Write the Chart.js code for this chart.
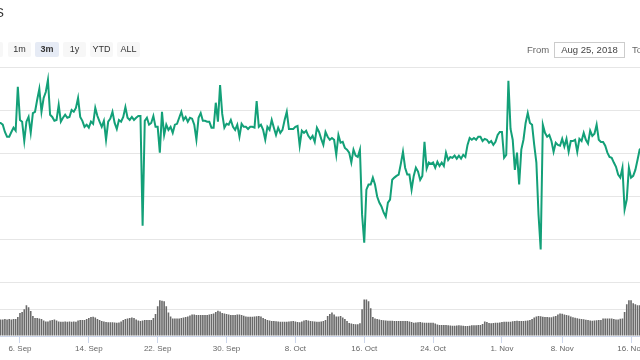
<!DOCTYPE html>
<html>
<head>
<meta charset="utf-8">
<script src="https://cdn.jsdelivr.net/npm/chart.js@4.4.1/dist/chart.umd.min.js"></script>
<style>
html, body { margin: 0; padding: 0; background: #fff; }
#wrap { position: relative; width: 640px; height: 360px; overflow: hidden; font-family: "Liberation Sans", Arial, sans-serif; }
#wrap canvas { position: absolute; left: 0; top: 0; }
.title { position: absolute; right: 636px; top: 5px; font-size: 13px; color: #333; white-space: nowrap; }
.btn { position: absolute; top: 42px; height: 15px; width: 23px; line-height: 15px; background: #f7f7f7; color: #333; font-size: 9px; text-align: center; border-radius: 2px; }
.btn.on { background: #e6ebf5; font-weight: bold; }
.lbl { position: absolute; top: 42px; line-height: 15px; font-size: 9.5px; color: #666; }
.inp { position: absolute; left: 554px; top: 42px; width: 69px; height: 14px; border: 1px solid #ccc; font-size: 9.5px; line-height: 14px; color: #444; text-align: center; box-sizing: content-box; }
</style>
</head>
<body>
<div id="wrap">
    <canvas id="c" width="640" height="360"></canvas>
    <div class="title">BTS</div>
    <div class="btn" style="left:-20px">1w</div>
    <div class="btn" style="left:8px">1m</div>
    <div class="btn on" style="left:35px;width:24px">3m</div>
    <div class="btn" style="left:63px">1y</div>
    <div class="btn" style="left:90px">YTD</div>
    <div class="btn" style="left:117px">ALL</div>
    <div class="lbl" style="left:527px">From</div>
    <div class="inp">Aug 25, 2018</div>
    <div class="lbl" style="left:632px">To</div>
</div>
<script>
// one point every 6 hours, day 1 = 1 Sep 2018
var START_DAY = 3.5,
    STEP_DAYS = 0.25,
    X_MIN = 3.68,
    X_MAX = 78.04,
    LINE_COLOR = '#13a078',
    VOLUME_COLOR = '#6a6a6a';

var priceValues = [
    370, 370, 366, 349, 338, 338, 349, 359, 352, 454,
    377, 373, 328, 373, 384, 347, 393, 396, 424, 449,
    396, 428, 442, 470, 389, 384, 375, 377, 412, 373,
    382, 389, 382, 384, 400, 396, 405, 428, 384, 375,
    361, 366, 359, 373, 368, 405, 386, 373, 361, 375,
    331, 373, 380, 396, 370, 356, 377, 373, 384, 407,
    382, 377, 384, 377, 382, 386, 386, 131, 375, 382,
    366, 370, 386, 361, 361, 301, 396, 342, 366, 354,
    361, 347, 366, 368, 382, 396, 377, 384, 373, 382,
    380, 366, 331, 382, 393, 375, 375, 373, 373, 359,
    359, 417, 373, 458, 391, 359, 368, 366, 377, 361,
    354, 366, 338, 368, 361, 361, 356, 361, 361, 359,
    421, 361, 366, 354, 331, 361, 354, 377, 359, 342,
    359, 347, 354, 377, 396, 356, 356, 356, 361, 363,
    317, 352, 347, 352, 340, 333, 340, 326, 359, 349,
    333, 319, 349, 338, 331, 335, 331, 296, 342, 324,
    326, 312, 308, 301, 278, 308, 294, 291, 308, 157,
    92, 215, 227, 227, 243, 227, 199, 185, 176, 162,
    152, 185, 192, 238, 243, 247, 250, 275, 303, 266,
    250, 250, 215, 247, 266, 257, 238, 247, 326, 264,
    278, 275, 278, 266, 280, 270, 278, 270, 301, 284,
    291, 289, 294, 287, 294, 287, 296, 291, 319, 335,
    331, 335, 331, 338, 338, 328, 333, 331, 324, 328,
    319, 326, 342, 349, 349, 289, 296, 468, 356, 331,
    261, 301, 227, 308, 331, 370, 393, 370, 366, 319,
    278, 157, 76, 366, 347, 338, 342, 328, 303, 324,
    319, 317, 333, 315, 333, 303, 328, 328, 331, 303,
    333, 328, 347, 331, 322, 352, 340, 345, 366, 331,
    326, 326, 317, 301, 291, 289, 278, 268, 250, 243,
    266, 169, 192, 266, 243, 247, 261, 284, 308, 312
];

var volumeValues = [
    618, 618, 611, 629, 611, 629, 611, 629, 629, 703,
    851, 888, 999, 1147, 1073, 925, 740, 666, 666, 648,
    629, 574, 537, 537, 574, 592, 618, 574, 537, 529,
    529, 537, 529, 537, 529, 537, 529, 574, 592, 592,
    592, 629, 666, 703, 714, 685, 629, 592, 555, 537,
    518, 507, 507, 507, 500, 492, 500, 537, 592, 629,
    655, 666, 685, 666, 611, 574, 555, 574, 592, 592,
    592, 592, 666, 814, 1110, 1332, 1314, 1295, 1110, 870,
    722, 655, 655, 655, 655, 666, 685, 703, 722, 759,
    796, 796, 784, 777, 777, 777, 777, 777, 796, 814,
    840, 888, 936, 907, 851, 833, 814, 796, 784, 777,
    784, 796, 803, 777, 751, 722, 714, 714, 714, 722,
    733, 740, 722, 666, 629, 592, 574, 562, 555, 544,
    537, 529, 529, 529, 529, 537, 548, 555, 537, 518,
    507, 537, 574, 592, 574, 555, 548, 537, 529, 529,
    537, 555, 592, 740, 814, 877, 796, 722, 722, 740,
    685, 629, 555, 481, 463, 444, 437, 433, 470, 999,
    1358, 1358, 1295, 1036, 703, 648, 629, 611, 592, 585,
    574, 566, 566, 566, 562, 555, 555, 555, 555, 555,
    555, 537, 518, 492, 500, 511, 518, 500, 492, 492,
    492, 492, 492, 463, 426, 407, 407, 407, 407, 400,
    389, 381, 381, 389, 396, 392, 381, 370, 370, 381,
    396, 396, 400, 407, 407, 444, 537, 518, 481, 470,
    481, 488, 492, 500, 518, 529, 529, 529, 529, 544,
    555, 566, 562, 555, 555, 566, 577, 592, 629, 685,
    722, 740, 733, 718, 710, 703, 696, 696, 722, 740,
    796, 840, 825, 803, 777, 759, 722, 696, 677, 659,
    644, 633, 622, 603, 592, 577, 570, 574, 585, 592,
    599, 648, 655, 655, 655, 648, 629, 618, 618, 640,
    655, 888, 1184, 1332, 1332, 1221, 1184, 1147, 1147, 1110
];

var tickDays = [6, 14, 22, 30, 38, 46, 54, 62, 69, 77];
var tickLabels = ['6. Sep', '14. Sep', '22. Sep', '30. Sep', '8. Oct', '16. Oct', '24. Oct', '1. Nov', '8. Nov', '16. Nov'];

function toPoints(values) {
    return values.map(function (v, i) {
        return { x: START_DAY + i * STEP_DAYS, y: v };
    });
}

function noWidth(scale) { scale.width = 0; }

Chart.defaults.font.family = '"Liberation Sans", Arial, sans-serif';

new Chart(document.getElementById('c').getContext('2d'), {
    data: {
        datasets: [{
            type: 'line',
            data: toPoints(priceValues),
            yAxisID: 'y',
            borderColor: LINE_COLOR,
            borderWidth: 2,
            pointRadius: 0,
            tension: 0
        }, {
            type: 'bar',
            data: toPoints(volumeValues),
            yAxisID: 'yVol',
            backgroundColor: VOLUME_COLOR,
            barPercentage: 0.75,
            categoryPercentage: 1
        }]
    },
    options: {
        responsive: false,
        animation: false,
        layout: { padding: { top: 67, left: 0, right: 0, bottom: 0 } },
        plugins: { legend: { display: false }, tooltip: { enabled: false } },
        scales: {
            x: {
                type: 'linear',
                offset: false,
                min: X_MIN,
                max: X_MAX,
                grid: { drawOnChartArea: false, offset: false, color: '#ccd6eb', tickLength: 7 },
                border: { color: '#ccd6eb' },
                ticks: {
                    autoSkip: false,
                    maxRotation: 0,
                    padding: 1,
                    color: '#666',
                    font: { size: 8 },
                    callback: function (v, i) { return tickLabels[i]; }
                },
                afterBuildTicks: function (scale) {
                    scale.ticks = tickDays.map(function (d) { return { value: d }; });
                },
                afterFit: function (scale) {
                    scale.height = 24;
                    scale.paddingLeft = 0;
                    scale.paddingRight = 0;
                }
            },
            yVol: {
                position: 'left',
                stack: 'panes',
                stackWeight: 1,
                min: 0,
                max: 2000,
                ticks: { display: false, stepSize: 1000 },
                grid: {
                    drawTicks: false,
                    color: function (ctx) { return ctx.tick && ctx.tick.value === 0 ? 'rgba(0,0,0,0)' : '#e6e6e6'; }
                },
                border: { display: false },
                afterFit: noWidth
            },
            y: {
                position: 'left',
                stack: 'panes',
                stackWeight: 4,
                min: 0,
                max: 500,
                ticks: { display: false, stepSize: 100 },
                grid: { drawTicks: false, color: '#e6e6e6' },
                border: { display: false },
                afterFit: noWidth
            }
        }
    }
});
</script>
</body>
</html>
